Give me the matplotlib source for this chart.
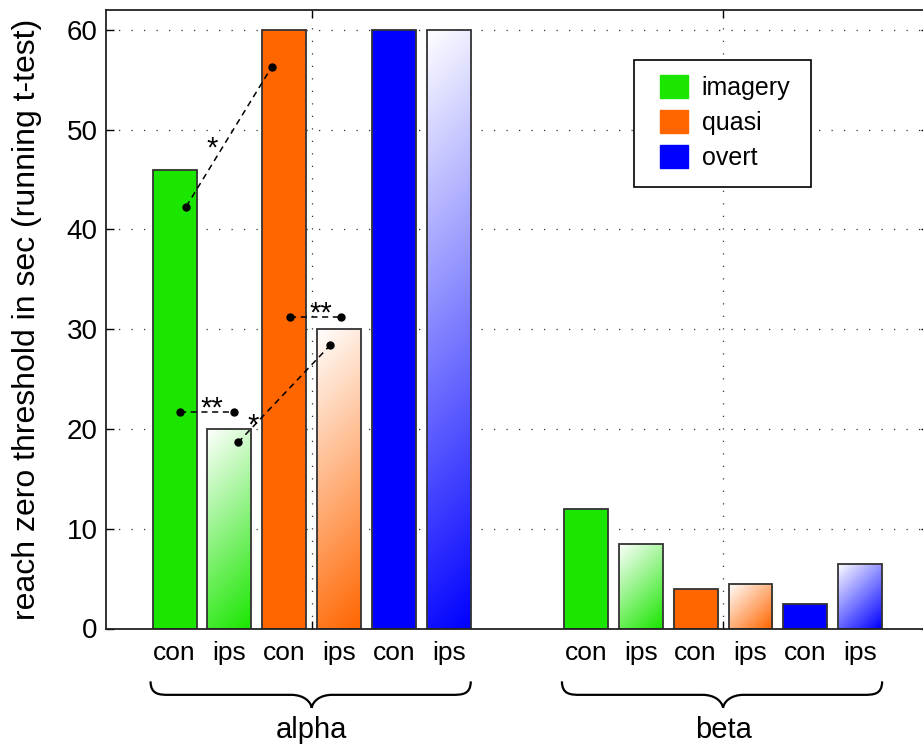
import numpy as np
import matplotlib
matplotlib.use("Agg")
import matplotlib.pyplot as plt
from matplotlib.patches import Patch, PathPatch, Rectangle
from matplotlib.path import Path

plt.rcParams['font.family'] = ['Liberation Sans', 'DejaVu Sans']

# ---- data -------------------------------------------------------------
bands = ['alpha', 'beta']
conditions = ['imagery', 'quasi', 'overt']
sides = ['con', 'ips']
alpha_vals = [46, 20, 60, 30, 60, 60]
beta_vals = [12, 8.5, 4, 4.5, 2.5, 6.5]
cond_colors = ['#1ae600', '#ff6600', '#0000ff']
ylabel = 'reach zero threshold in sec (running t-test)'
yticks = [0, 10, 20, 30, 40, 50, 60]

# significance links: (x1, y1), (x2, y2), star position, label
sig_from = [(0.695, 42.3), (0.948, 31.2), (0.679, 21.7), (0.821, 18.65)]
sig_to = [(0.903, 56.3), (1.072, 31.2), (0.810, 21.7), (1.045, 28.4)]
sig_star = [(0.758, 49.0), (1.022, 32.4), (0.757, 22.9), (0.857, 21.25)]
sig_text = ['*', '**', '**', '*']

# ---- figure -----------------------------------------------------------
W, H = 923, 746
fig = plt.figure(figsize=(W / 100, H / 100), dpi=100)
ax = fig.add_axes([106 / W, 117.5 / H, 822.75 / W, 618.5 / H])
ax.set_xlim(0.5, 2.5)
ax.set_ylim(0, 62)

n = 6
group_w = 0.8
step = group_w / n
bar_w = step * 0.8
offsets = (np.arange(n) - (n - 1) / 2) * step

edge = '#333333'
fs_tick = 20
fs_lab = 19
fs_leg = 18


def gradient_fill(patch, color):
    """Fill a bar with a white-to-colour gradient running from its
    top-left corner to its bottom-right corner in screen space."""
    x0, y0 = patch.get_x(), patch.get_y()
    w, h = patch.get_width(), patch.get_height()
    p0 = ax.transData.transform((x0, y0))
    p1 = ax.transData.transform((x0 + w, y0 + h))
    wpx, hpx = abs(p1[0] - p0[0]), abs(p1[1] - p0[1])
    nx, ny = 60, max(60, int(hpx))
    xs = np.linspace(0, wpx, nx)
    ys = np.linspace(0, hpx, ny)  # distance from the top
    X, Y = np.meshgrid(xs, ys)
    t = (X + Y) / (wpx + hpx)
    rgb = np.array(matplotlib.colors.to_rgb(color))
    img = (1 - t[..., None]) * 1.0 + t[..., None] * rgb
    im = ax.imshow(img, extent=[x0, x0 + w, y0, y0 + h], origin='upper',
                   aspect='auto', interpolation='bilinear', zorder=1.5)
    im.set_clip_path(patch)


for g, vals in enumerate([alpha_vals, beta_vals]):
    xs = g + 1 + offsets
    for i, (x, v) in enumerate(zip(xs, vals)):
        col = cond_colors[i // 2]
        if i % 2 == 0:
            ax.bar(x, v, bar_w, color=col, edgecolor=edge, linewidth=1.3,
                   zorder=2)
        else:
            b = ax.bar(x, v, bar_w, facecolor='none', edgecolor=edge,
                       linewidth=1.3, zorder=2)[0]
            gradient_fill(b, col)
        ax.text(x, -3.16, sides[i % 2], ha='center', va='baseline',
                fontsize=fs_lab, clip_on=False)

ax.set_xlim(0.5, 2.5)
ax.set_ylim(0, 62)

# braces under each band
y_end, y_h, y_tip = -5.3, -6.65, -7.95
r_end, r_mid = 0.045, 0.05
for g, name in enumerate(bands):
    xc = g + 1
    xl = xc + offsets[0] - bar_w / 2 - 0.005
    xr = xc + offsets[-1] + bar_w / 2
    mid_c = y_tip + 0.5 * (y_h - y_tip)
    verts = [
        (xl, y_end), (xl, y_h), (xl + 0.5 * r_end, y_h), (xl + r_end, y_h),
        (xc - r_mid, y_h),
        (xc - 0.4 * r_mid, y_h), (xc - 0.05 * r_mid, mid_c), (xc, y_tip),
        (xc + 0.05 * r_mid, mid_c), (xc + 0.4 * r_mid, y_h), (xc + r_mid, y_h),
        (xr - r_end, y_h),
        (xr - 0.5 * r_end, y_h), (xr, y_h), (xr, y_end),
    ]
    codes = [Path.MOVETO, Path.CURVE4, Path.CURVE4, Path.CURVE4,
             Path.LINETO,
             Path.CURVE4, Path.CURVE4, Path.CURVE4,
             Path.CURVE4, Path.CURVE4, Path.CURVE4,
             Path.LINETO,
             Path.CURVE4, Path.CURVE4, Path.CURVE4]
    ax.add_patch(PathPatch(Path(verts, codes), facecolor='none',
                           edgecolor='black', linewidth=1.6, clip_on=False))
    ax.text(xc, -11.0, name, ha='center', va='baseline', fontsize=21,
            clip_on=False)

# significance markers
for (x1, y1), (x2, y2), (sx, sy), s in zip(sig_from, sig_to, sig_star, sig_text):
    ax.plot([x1, x2], [y1, y2], color='black', linewidth=1.1,
            linestyle=(0, (4, 3)), marker='o', markersize=5, zorder=4)
    ax.annotate(s, xy=(sx, sy), xytext=(0, -12.0), textcoords='offset points',
                ha='center', va='baseline', fontsize=21, zorder=5)

# axes styling
ax.set_xticks([1, 2])
ax.set_yticks(yticks)
ax.tick_params(axis='x', which='both', labelbottom=False, direction='in',
               top=True, length=6, width=1)
ax.tick_params(axis='y', direction='in', right=True, length=6, width=1,
               labelsize=fs_tick, pad=6)
ax.set_axisbelow(True)
ax.grid(True, linestyle=(0, (1, 9)), color='#333333', linewidth=0.9)
for sp in ax.spines.values():
    sp.set_linewidth(1.3)
    sp.set_color('#222222')

ax.set_ylabel(ylabel, fontsize=23)
ax.yaxis.set_label_coords((42 - 106) / 822.75, 0.5)

# legend: entries plus a separate rectangular frame
handles = [Patch(facecolor=c, edgecolor=c) for c in cond_colors]
leg = fig.legend(handles, conditions, loc='upper left',
                 bbox_to_anchor=(660 / W, 1 - 75 / H), fontsize=fs_leg,
                 frameon=False, handlelength=1.12, handleheight=1.04,
                 handletextpad=0.55, labelspacing=0.39, borderpad=0,
                 borderaxespad=0)
leg.set_zorder(6)
fig.patches.append(Rectangle((634 / W, 1 - 187 / H), 177 / W, 127 / H,
                             transform=fig.transFigure, facecolor='white',
                             edgecolor='black', linewidth=1.2, zorder=5))

fig.savefig('out.png', dpi=100)
